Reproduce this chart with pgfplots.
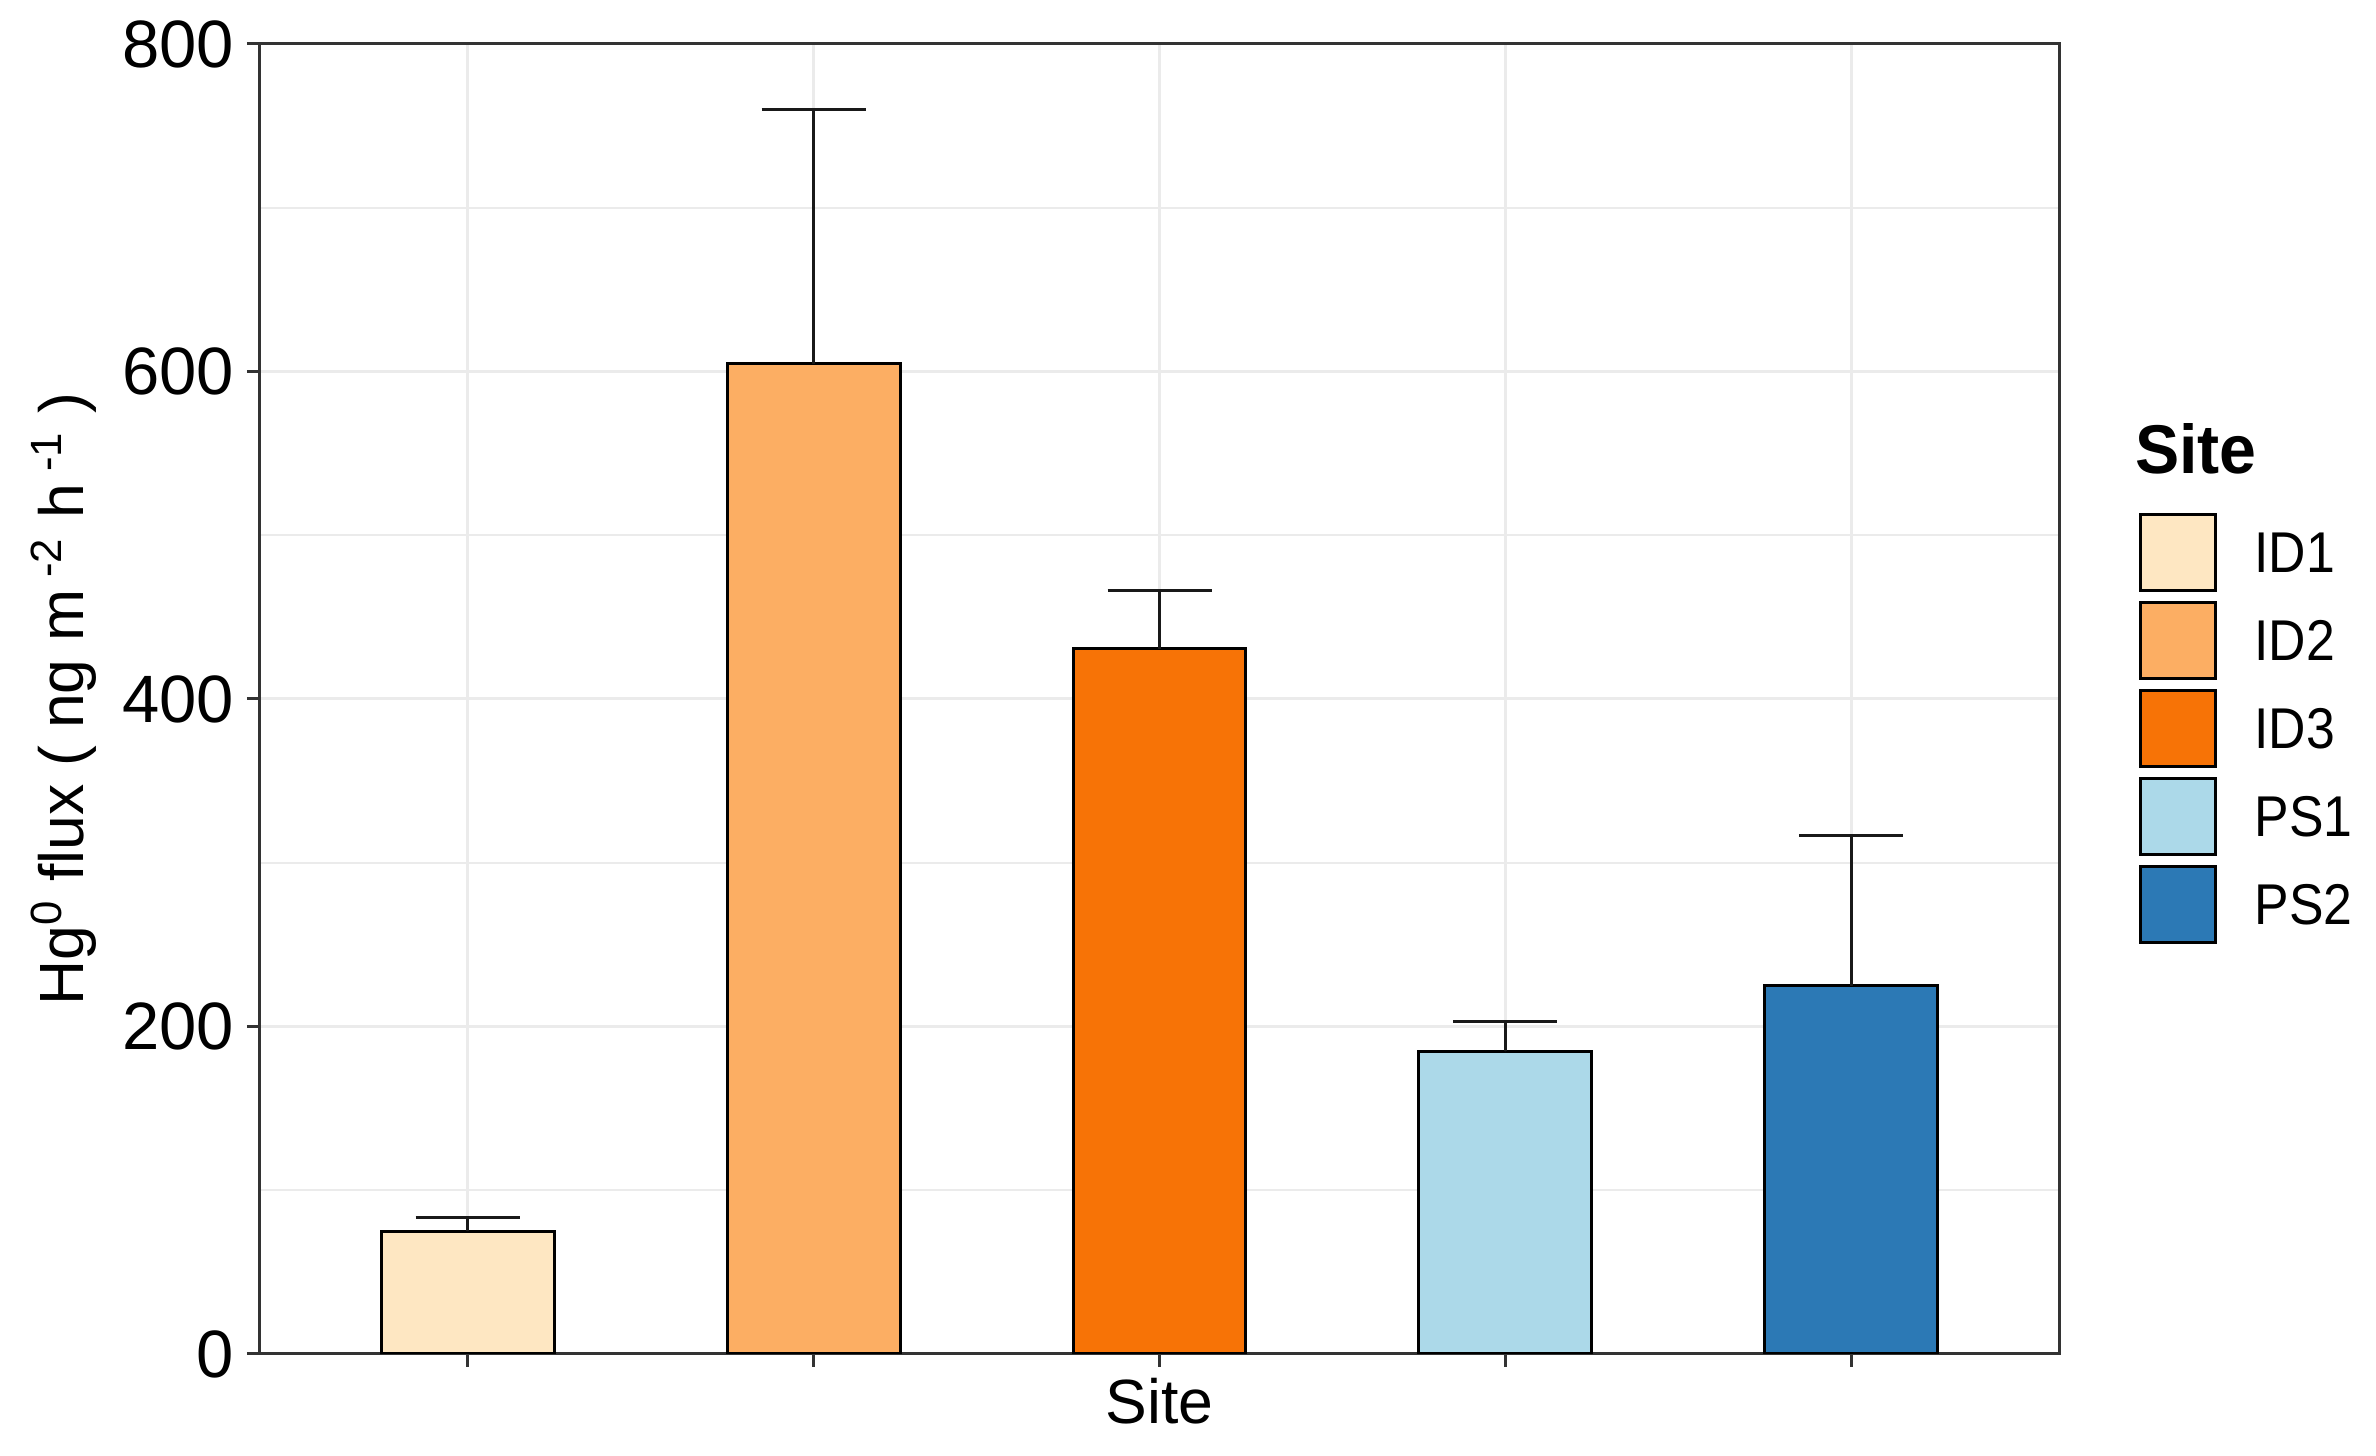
\documentclass[border=0pt]{standalone}
\usepackage{fontspec}
\setmainfont{Liberation Sans}
\newfontfamily\legfont[FakeStretch=0.9]{Liberation Sans}
\newfontfamily\titfont[FakeStretch=0.96]{Liberation Sans}
\usepackage{pgfplots}
\pgfplotsset{compat=1.18}
\definecolor{cIDa}{HTML}{FEE7C2}
\definecolor{cIDb}{HTML}{FCAE63}
\definecolor{cIDc}{HTML}{F77306}
\definecolor{cPSa}{HTML}{ACD9E9}
\definecolor{cPSb}{HTML}{2C79B5}
\definecolor{gridgray}{HTML}{EBEBEB}
\definecolor{framegray}{HTML}{333333}
\begin{document}
\begin{tikzpicture}
\path[use as bounding box] (-52pt,-20.2pt) rectangle (423.2pt,270.8pt);
\begin{axis}[
  scale only axis,
  width=359.8pt, height=262pt,
  xmin=0.4, xmax=5.6, ymin=0, ymax=800,
  xtick={1,2,3,4,5}, xticklabels={},
  ytick={0,200,400,600,800},
  minor ytick={100,300,500,700},
  grid=both,
  major grid style={draw=gridgray, line width=0.6pt},
  minor grid style={draw=gridgray, line width=0.4pt},
  axis line style={draw=framegray, line width=0.6pt},
  tick style={draw=framegray, line width=0.6pt},
  tick align=outside, tick pos=left,
  major tick length=2.6pt, minor tick length=0pt,
  /pgf/number format/assume math mode=true,
  yticklabel style={font=\fontsize{13.4}{15}\selectfont, inner xsep=2.4pt, text=black},
  xlabel={Site},
  xlabel style={font=\fontsize{12.5}{14}\selectfont, at={(axis description cs:0.5,0)}, anchor=base, yshift=-14pt},
  ylabel={Hg\textsuperscript{0} flux ( ng m\textsuperscript{ -2} h\textsuperscript{ -1} )},
  ylabel style={font=\fontsize{12.5}{15}\selectfont, at={(axis description cs:-0.098,0.5)}, anchor=base, rotate=0},
  bar width=0.5,
  every axis plot/.append style={ybar, bar shift=0pt, draw=black, line width=0.6pt,
    error bars/y dir=plus, error bars/y explicit,
    error bars/error bar style={draw=black!90, line width=0.6pt},
    error bars/error mark options={rotate=90, draw=black!90, line width=0.6pt, mark size=10.4pt}},
  legend style={at={(rel axis cs:1,1)}, anchor=north west, xshift=16pt, yshift=-72.2pt,
    draw=none, fill=none, inner sep=0pt, outer sep=0pt, row sep=0pt,
    font=\legfont\fontsize{11.5}{13}\selectfont,
    nodes={inner sep=0pt, outer sep=0pt},
    cells={anchor=base west},
    column sep=0pt},
  legend image code/.code={\draw[#1, line width=0.6pt] (0pt,-3.5pt) rectangle (15pt,11.7pt);\path[draw=none, fill=none] (0pt,-4.7pt) rectangle (22.8pt,12.9pt);},
]
\addlegendimage{legend image code/.code={\path[draw=none, fill=none] (0pt,-6.9pt) rectangle (22.8pt,13.8pt);}}
\addlegendentry{\hspace*{-24.4pt}\titfont\fontsize{13.8}{15}\selectfont\bfseries Site}
\addlegendimage{fill=cIDa, draw=black}
\addlegendentry{ID1}
\addlegendimage{fill=cIDb, draw=black}
\addlegendentry{ID2}
\addlegendimage{fill=cIDc, draw=black}
\addlegendentry{ID3}
\addlegendimage{fill=cPSa, draw=black}
\addlegendentry{PS1}
\addlegendimage{fill=cPSb, draw=black}
\addlegendentry{PS2}
\addplot[fill=cIDa] coordinates {(1,75.1) +- (0,8.4)};
\addplot[fill=cIDb] coordinates {(2,604.6) +- (0,155.2)};
\addplot[fill=cIDc] coordinates {(3,430.7) +- (0,35.4)};
\addplot[fill=cPSa] coordinates {(4,184.8) +- (0,18.5)};
\addplot[fill=cPSb] coordinates {(5,224.9) +- (0,91.6)};
\end{axis}
\end{tikzpicture}
\end{document}
